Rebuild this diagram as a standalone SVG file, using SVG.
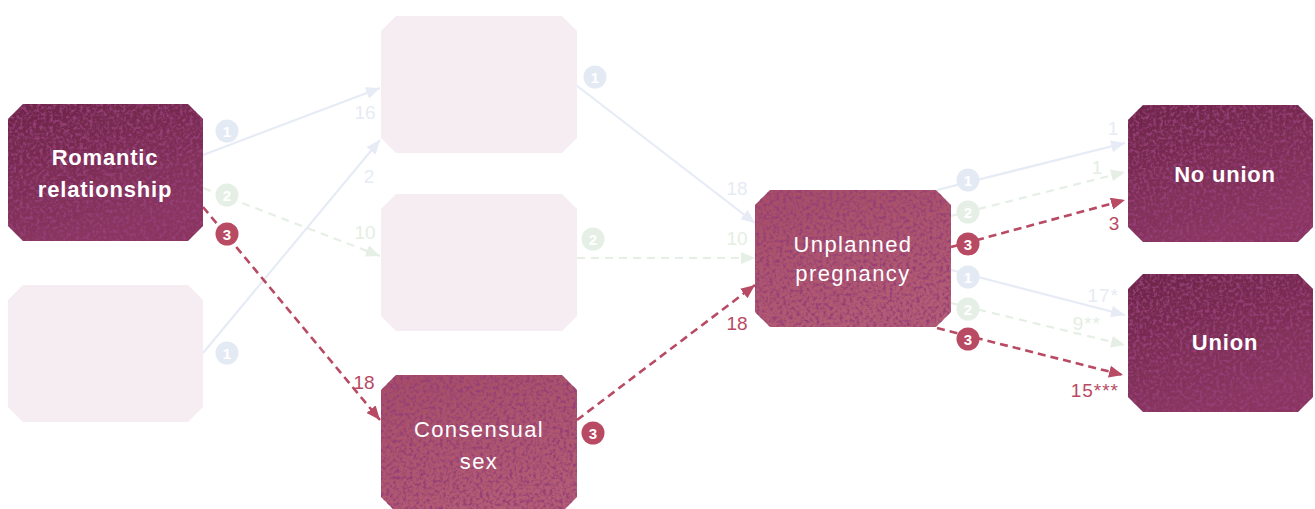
<svg xmlns="http://www.w3.org/2000/svg" width="1315" height="509" viewBox="0 0 1315 509">
<style>
.dark{fill:url(#gDark);filter:url(#grain)}
.mid{fill:url(#gMid);filter:url(#grain)}
.faded{fill:#f6edf2}
.nt{font-family:"Liberation Sans",Arial,sans-serif;font-size:22px;fill:#fff;text-anchor:middle;letter-spacing:1.4px}
.b{font-weight:bold;letter-spacing:0.8px}
.blue{stroke:#e6ebf5;stroke-width:2.2;fill:none}
.green{stroke:#e6efe5;stroke-width:2.2;fill:none;stroke-dasharray:8 6}
.red{stroke:#b84a63;stroke-width:2.6;fill:none;stroke-dasharray:8 5}
.num{font-family:"Liberation Sans",Arial,sans-serif;font-size:19px;text-anchor:middle}
.ast{letter-spacing:1px}
.cn{font-family:"Liberation Sans",Arial,sans-serif;font-size:15px;font-weight:bold;fill:#fff;text-anchor:middle}
.cr{fill:#b84a63}.cb{fill:#e4eaf4}.cg{fill:#e6efe6}
.tr{fill:#b84a63}.tb{fill:#e6ebf5}.tg{fill:#e4eee3}
</style>
<defs>
<linearGradient id="gDark" x1="0" y1="0" x2="0.4" y2="1">
<stop offset="0" stop-color="#6c2547"/><stop offset="1" stop-color="#8a3660"/>
</linearGradient>
<linearGradient id="gMid" x1="0" y1="0" x2="0.4" y2="1">
<stop offset="0" stop-color="#a64d67"/><stop offset="1" stop-color="#b35c74"/>
</linearGradient>
<filter id="grain" x="0" y="0" width="1" height="1">
<feTurbulence type="fractalNoise" baseFrequency="0.3" numOctaves="3" seed="4" result="n"/>
<feColorMatrix in="n" type="matrix" values="0 0 0 0 0.3  0 0 0 0 0.05  0 0 0 0 0.18  3.4 0 0 0 -1.5" result="spots"/>
<feComposite in="spots" in2="SourceGraphic" operator="in" result="s2"/>
<feMerge><feMergeNode in="SourceGraphic"/><feMergeNode in="s2"/></feMerge>
</filter>
<marker id="aR" viewBox="0 0 14 12" refX="14" refY="6" markerWidth="14" markerHeight="12" markerUnits="userSpaceOnUse" orient="auto"><path d="M0,0 L14,6 L0,12 z" fill="#b84a63"/></marker>
<marker id="aB" viewBox="0 0 14 12" refX="14" refY="6" markerWidth="14" markerHeight="12" markerUnits="userSpaceOnUse" orient="auto"><path d="M0,0 L14,6 L0,12 z" fill="#e6ebf5"/></marker>
<marker id="aG" viewBox="0 0 14 12" refX="14" refY="6" markerWidth="14" markerHeight="12" markerUnits="userSpaceOnUse" orient="auto"><path d="M0,0 L14,6 L0,12 z" fill="#e6efe5"/></marker>
</defs>

<g id="connectors">
<line class="blue" x1="203" y1="155" x2="380" y2="88" marker-end="url(#aB)"/>
<line class="blue" x1="203" y1="353" x2="380" y2="140" marker-end="url(#aB)"/>
<line class="green" x1="203" y1="188" x2="380" y2="256" marker-end="url(#aG)"/>
<line class="red" x1="203" y1="207" x2="380" y2="420" marker-end="url(#aR)"/>
<line class="blue" x1="576" y1="85" x2="755" y2="223" marker-end="url(#aB)"/>
<line class="green" x1="577" y1="258" x2="755" y2="258" marker-end="url(#aG)"/>
<line class="red" x1="577" y1="420" x2="755" y2="285" marker-end="url(#aR)"/>
<line class="blue" x1="937" y1="190" x2="1125" y2="143" marker-end="url(#aB)"/>
<line class="green" x1="951" y1="216" x2="1125" y2="172" marker-end="url(#aG)"/>
<line class="red" x1="951" y1="247" x2="1125" y2="200" marker-end="url(#aR)"/>
<line class="blue" x1="951" y1="270" x2="1125" y2="315" marker-end="url(#aB)"/>
<line class="green" x1="951" y1="303" x2="1125" y2="345" marker-end="url(#aG)"/>
<line class="red" x1="937" y1="328" x2="1123" y2="375" marker-end="url(#aR)"/>

<circle class="cb" cx="227" cy="131" r="11.5"/><text class="cn" x="227" y="136.5">1</text>
<circle class="cg" cx="227" cy="195" r="11.5"/><text class="cn" x="227" y="200.5">2</text>
<circle class="cr" cx="227" cy="234" r="11.5"/><text class="cn" x="227" y="239.5">3</text>
<circle class="cb" cx="227" cy="353" r="11.5"/><text class="cn" x="227" y="358.5">1</text>
<circle class="cb" cx="595" cy="77" r="11.5"/><text class="cn" x="595" y="82.5">1</text>
<circle class="cg" cx="593" cy="239" r="11.5"/><text class="cn" x="593" y="244.5">2</text>
<circle class="cr" cx="593" cy="433" r="11.5"/><text class="cn" x="593" y="438.5">3</text>
<circle class="cb" cx="968" cy="180" r="11.5"/><text class="cn" x="968" y="185.5">1</text>
<circle class="cg" cx="968" cy="212" r="11.5"/><text class="cn" x="968" y="217.5">2</text>
<circle class="cr" cx="968" cy="244" r="11.5"/><text class="cn" x="968" y="249.5">3</text>
<circle class="cb" cx="968" cy="277" r="11.5"/><text class="cn" x="968" y="282.5">1</text>
<circle class="cg" cx="968" cy="309" r="11.5"/><text class="cn" x="968" y="314.5">2</text>
<circle class="cr" cx="968" cy="339" r="11.5"/><text class="cn" x="968" y="344.5">3</text>

<text class="num tb" x="365" y="119">16</text>
<text class="num tb" x="369" y="183">2</text>
<text class="num tg" x="365" y="239">10</text>
<text class="num tr" x="364" y="389">18</text>
<text class="num tb" x="737" y="195">18</text>
<text class="num tg" x="737" y="245">10</text>
<text class="num tr" x="737" y="330">18</text>
<text class="num tb" x="1113" y="135">1</text>
<text class="num tg" x="1097" y="174">1</text>
<text class="num tr" x="1114" y="230">3</text>
<text class="num tb ast" x="1119" y="302" style="text-anchor:end">17*</text>
<text class="num tg ast" x="1101" y="330" style="text-anchor:end">9**</text>
<text class="num tr ast" x="1119" y="397" style="text-anchor:end">15***</text>
</g>

<g id="n-romantic">
<polygon class="dark" points="23,104 188,104 203,119 203,226 188,241 23,241 8,226 8,119"/>
<text class="nt b" x="105" y="165">Romantic</text>
<text class="nt b" x="105" y="197">relationship</text>
</g>
<g id="n-faded-left">
<polygon class="faded" points="23,285 188,285 203,300 203,407 188,422 23,422 8,407 8,300"/>
</g>
<g id="n-faded-top">
<polygon class="faded" points="396,16 562,16 577,31 577,138 562,153 396,153 381,138 381,31"/>
</g>
<g id="n-faded-mid">
<polygon class="faded" points="396,194 562,194 577,209 577,316 562,331 396,331 381,316 381,209"/>
</g>
<g id="n-consensual">
<polygon class="mid" points="396,375 562,375 577,390 577,497 562,512 396,512 381,497 381,390"/>
<text class="nt" x="479" y="437">Consensual</text>
<text class="nt" x="479" y="469">sex</text>
</g>
<g id="n-unplanned">
<polygon class="mid" points="770,190 936,190 951,205 951,312 936,327 770,327 755,312 755,205"/>
<text class="nt" x="853" y="252">Unplanned</text>
<text class="nt" x="853" y="281">pregnancy</text>
</g>
<g id="n-nounion">
<polygon class="dark" points="1143,105 1298,105 1313,120 1313,227 1298,242 1143,242 1128,227 1128,120"/>
<text class="nt b" x="1225" y="182">No union</text>
</g>
<g id="n-union">
<polygon class="dark" points="1143,274 1298,274 1313,289 1313,397 1298,412 1143,412 1128,397 1128,289"/>
<text class="nt b" x="1225" y="350">Union</text>
</g>
</svg>
